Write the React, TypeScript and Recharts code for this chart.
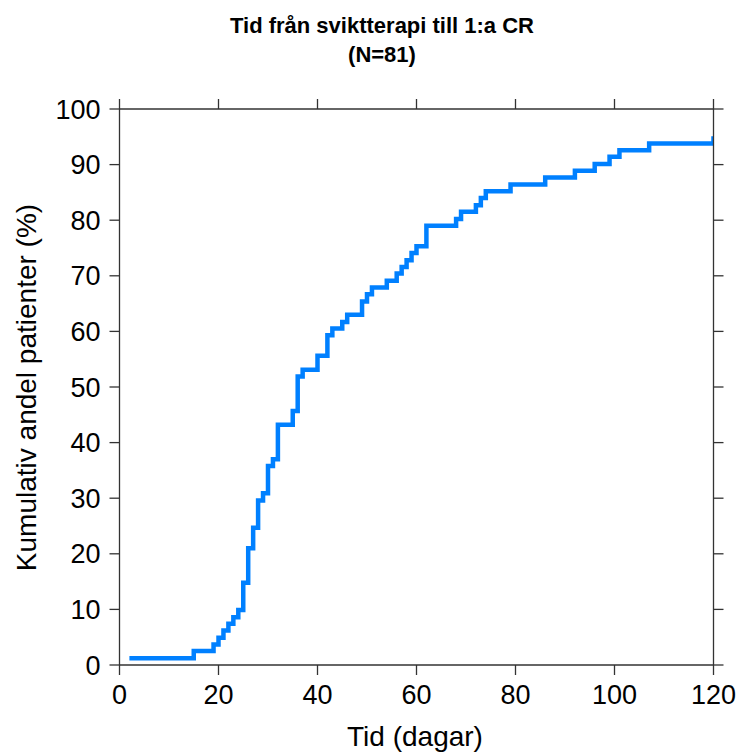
import { Line, LineChart, XAxis, YAxis } from "recharts";

// time (days) at which the cumulative share steps up, and the share after the step (%)
const days = [
  2, 15, 19, 20, 21, 22, 23, 24, 25, 26, 27, 28, 29, 30, 31, 32, 35, 36, 37, 40, 42, 43, 45, 46,
  49, 50, 51, 54, 56, 57, 58, 59, 60, 62, 68, 69, 72, 73, 74, 79, 86, 92, 96, 99, 101, 107, 120,
];
const cumulativePct = [
  1.2, 2.5, 3.7, 4.9, 6.2, 7.4, 8.6, 9.9, 14.8, 21.0, 24.7, 29.6, 30.9, 35.8, 37.0, 43.2, 45.7,
  51.9, 53.1, 55.6, 59.3, 60.5, 61.7, 63.0, 65.4, 66.7, 67.9, 69.1, 70.4, 71.6, 72.8, 74.1, 75.3,
  79.0, 80.2, 81.5, 82.7, 84.0, 85.2, 86.4, 87.7, 88.9, 90.1, 91.4, 92.6, 93.8, 95.1,
];
const xTicks = [0, 20, 40, 60, 80, 100, 120];
const yTicks = [0, 10, 20, 30, 40, 50, 60, 70, 80, 90, 100];

const data = days.map((t, i) => ({ t, pct: cumulativePct[i] }));

const font = "'Liberation Sans', Arial, sans-serif";
const axisColor = "#333";
const tickStyle = { fill: "#000", fontSize: 27, fontFamily: font };
const blank = () => "";

// full window; the body margin is dropped so the "120" label is not cut at the root's edge
const W = 741;
const H = 754;

export default function App() {
  return (
    <div style={{ position: "relative", width: W, height: H }}>
      <style>{"body { margin: 0; }"}</style>
      <LineChart
        width={W}
        height={H}
        data={data}
        margin={{ top: 89, right: 7.5, bottom: 39, left: 0 }}
      >
        <XAxis
          xAxisId="bottom"
          dataKey="t"
          type="number"
          domain={[0, 120]}
          ticks={xTicks}
          interval={0}
          allowDataOverflow
          height={50}
          tickSize={10}
          tickMargin={10}
          stroke={axisColor}
          strokeWidth={1.3}
          tick={tickStyle}
        />
        <XAxis
          xAxisId="top"
          orientation="top"
          dataKey="t"
          type="number"
          domain={[0, 120]}
          ticks={xTicks}
          interval={0}
          allowDataOverflow
          height={20}
          tickSize={10}
          stroke={axisColor}
          strokeWidth={1.3}
          tickFormatter={blank}
        />
        <YAxis
          yAxisId="left"
          type="number"
          domain={[0, 100]}
          ticks={yTicks}
          interval={0}
          allowDataOverflow
          width={119.5}
          tickSize={10}
          tickMargin={9}
          stroke={axisColor}
          strokeWidth={1.3}
          tick={tickStyle}
        />
        <YAxis
          yAxisId="right"
          orientation="right"
          type="number"
          domain={[0, 100]}
          ticks={yTicks}
          interval={0}
          allowDataOverflow
          width={20}
          tickSize={10}
          stroke={axisColor}
          strokeWidth={1.3}
          tickFormatter={blank}
        />
        <Line
          xAxisId="bottom"
          yAxisId="left"
          dataKey="pct"
          type="stepAfter"
          stroke="#0080ff"
          strokeWidth={4.5}
          dot={false}
          activeDot={false}
          isAnimationActive={false}
        />
      </LineChart>
      <svg
        width={W}
        height={H}
        style={{ position: "absolute", left: 0, top: 0, pointerEvents: "none" }}
        fontFamily={font}
      >
        <text x={382} y={33} textAnchor="middle" fontSize={22} fontWeight="bold" fill="#000">
          Tid från sviktterapi till 1:a CR
        </text>
        <text x={382} y={62} textAnchor="middle" fontSize={22} fontWeight="bold" fill="#000">
          (N=81)
        </text>
        <text x={415} y={746} textAnchor="middle" fontSize={28} fill="#000">
          Tid (dagar)
        </text>
        <text transform="translate(36,387.5) rotate(-90)" textAnchor="middle" fontSize={28} fill="#000">
          Kumulativ andel patienter (%)
        </text>
      </svg>
    </div>
  );
}
